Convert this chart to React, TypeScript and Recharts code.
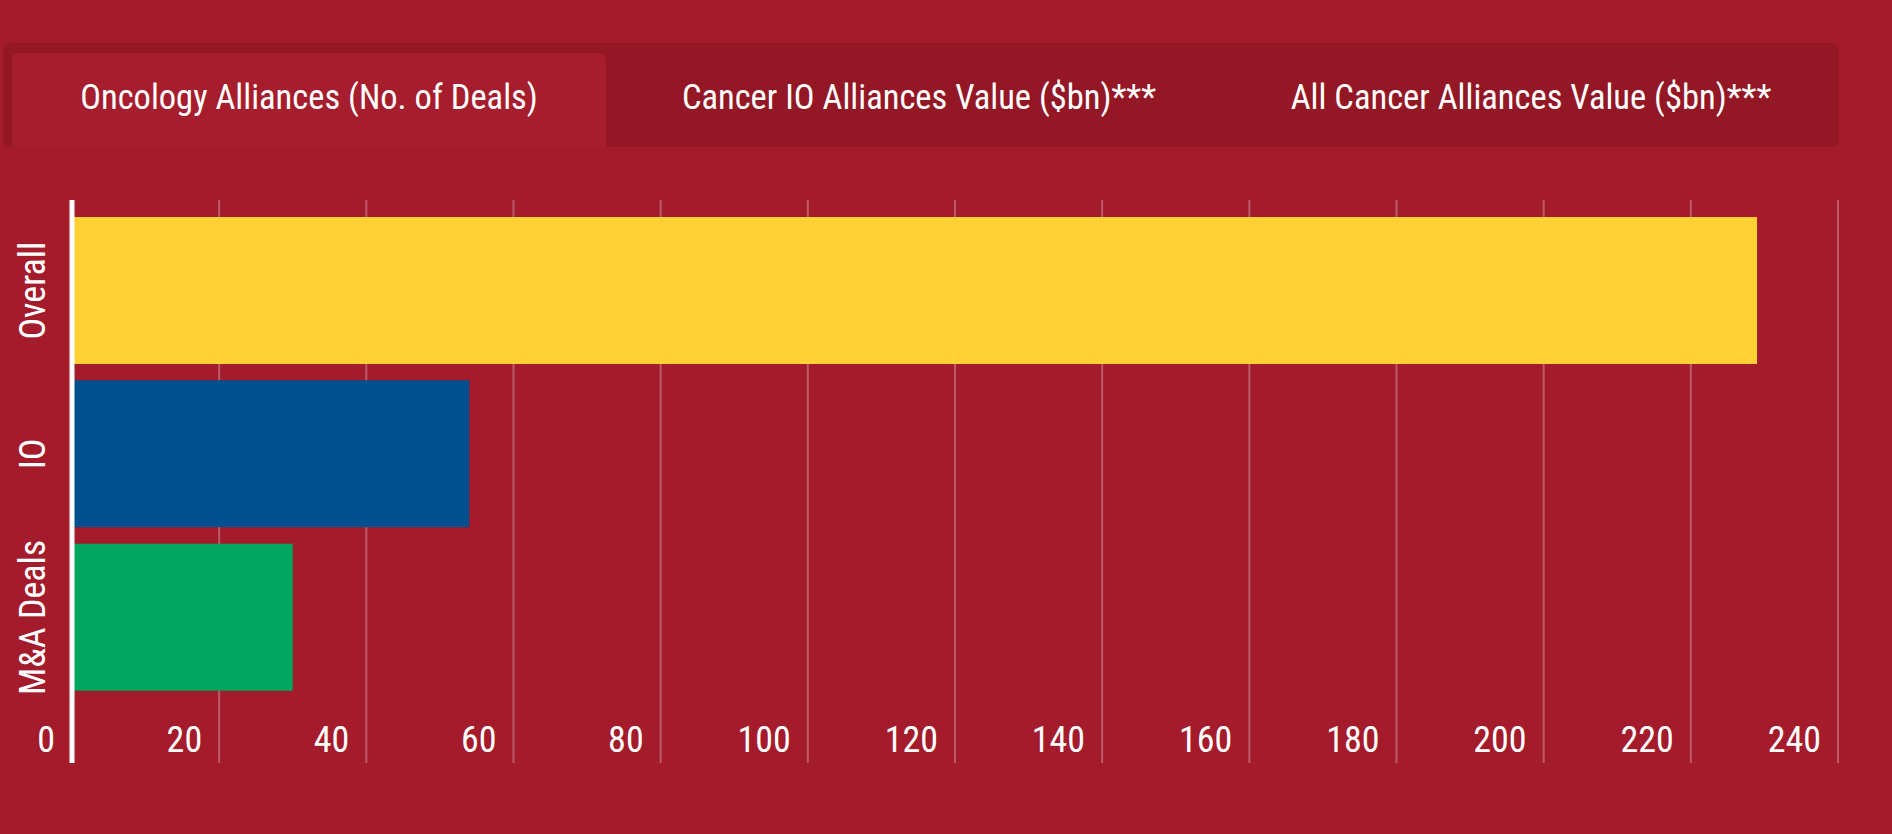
import { Bar, BarChart, CartesianGrid, Cell, XAxis, YAxis } from "recharts";

const categories = ["Overall", "IO", "M&A Deals"];
const dealCounts = [229, 54, 30];
const barColors = ["#ffd135", "#00508f", "#00a65d"];
const xTicks = [0, 20, 40, 60, 80, 100, 120, 140, 160, 180, 200, 220, 240];
const tabLabels = [
  "Oncology Alliances (No. of Deals)",
  "Cancer IO Alliances Value ($bn)***",
  "All Cancer Alliances Value ($bn)***",
];
const tabWidths = [594, 626, 598];

const data = categories.map((name, i) => ({ name, value: dealCounts[i] }));

const FONT = "'Roboto Condensed', Roboto, 'Noto Sans', sans-serif";

interface TickProps {
  x?: number;
  y?: number;
  payload?: { value: string | number };
}

function XTick({ x = 0, y = 0, payload }: TickProps) {
  return (
    <text
      x={x - 17}
      y={y - 11}
      textAnchor="end"
      fill="#ffffff"
      fontSize={36}
      fontFamily={FONT}
    >
      {payload?.value}
    </text>
  );
}

function YTick({ y = 0, payload }: TickProps) {
  return (
    <text
      transform={`translate(45, ${y}) rotate(-90)`}
      textAnchor="middle"
      fill="#ffffff"
      fontSize={36}
      fontFamily={FONT}
    >
      {payload?.value}
    </text>
  );
}

function Tabs() {
  return (
    <div
      style={{
        position: "absolute",
        left: 3,
        top: 43,
        width: 1836,
        height: 104,
        background: "rgba(60, 0, 8, 0.14)",
        borderRadius: 8,
        display: "flex",
        paddingLeft: 9,
        paddingTop: 10,
        boxSizing: "border-box",
      }}
    >
      {tabLabels.map((label, i) => (
        <div
          key={label}
          style={{
            width: tabWidths[i],
            height: 94,
            display: "flex",
            alignItems: "center",
            justifyContent: "center",
            paddingBottom: 6,
            boxSizing: "border-box",
            background: i === 0 ? "#a61d2d" : "transparent",
            borderRadius: "6px 6px 0 0",
          }}
        >
          <span
            style={{
              whiteSpace: "nowrap",
              color: "#ffffff",
              fontFamily: FONT,
              fontSize: 34.5,
            }}
          >
            {label}
          </span>
        </div>
      ))}
    </div>
  );
}

export default function App() {
  return (
    <div
      style={{
        position: "absolute",
        left: 0,
        top: 0,
        width: 1892,
        height: 834,
        overflow: "hidden",
        background: "#a41b2b",
      }}
    >
      <Tabs />
      <div style={{ position: "absolute", left: 0, top: 0 }}>
        <BarChart
          width={1892}
          height={834}
          data={data}
          layout="vertical"
          margin={{ top: 200, right: 54, bottom: 70, left: 0 }}
        >
          <CartesianGrid
            horizontal={false}
            stroke="rgba(255,255,255,0.28)"
            strokeWidth={2}
          />
          <XAxis
            type="number"
            domain={[0, 240]}
            ticks={xTicks}
            interval={0}
            height={1}
            tickSize={0}
            tickMargin={0}
            axisLine={false}
            tickLine={false}
            tick={<XTick />}
          />
          <YAxis
            type="category"
            dataKey="name"
            width={72}
            padding={{ top: 9, bottom: 64 }}
            axisLine={{ stroke: "#ffffff", strokeWidth: 5 }}
            tickLine={false}
            tick={<YTick />}
            interval={0}
          />
          <Bar dataKey="value" barSize={147} isAnimationActive={false}>
            {data.map((entry, i) => (
              <Cell key={entry.name} fill={barColors[i]} />
            ))}
          </Bar>
        </BarChart>
      </div>
    </div>
  );
}
